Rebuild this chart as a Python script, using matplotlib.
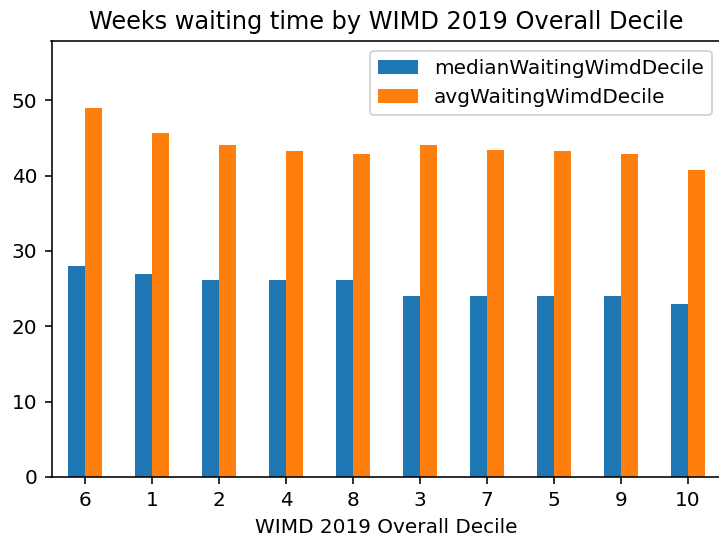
import matplotlib
matplotlib.use("Agg")
import matplotlib.pyplot as plt
import pandas as pd

deciles = ["6", "1", "2", "4", "8", "3", "7", "5", "9", "10"]
median_wait = [28.0, 27.0, 26.1, 26.1, 26.1, 24.0, 24.0, 24.0, 24.0, 23.0]
avg_wait = [49.0, 45.6, 44.0, 43.2, 42.9, 44.0, 43.4, 43.2, 42.9, 40.8]

df = pd.DataFrame({"medianWaitingWimdDecile": median_wait,
                   "avgWaitingWimdDecile": avg_wait},
                  index=pd.Index(deciles, name="WIMD 2019 Overall Decile"))

dpi = 144
W, H = 719, 545
fig = plt.figure(figsize=(W / dpi, H / dpi), dpi=dpi)
ax = fig.add_axes([51.5 / W, 1 - 477 / H, 670 / W, 436 / H])
df.plot.bar(ax=ax, rot=0)
ax.set_ylim(0, 57.85)
ax.set_title("Weeks waiting time by WIMD 2019 Overall Decile")
ax.legend(loc="upper right")

fig.savefig("out.png", dpi=dpi)
